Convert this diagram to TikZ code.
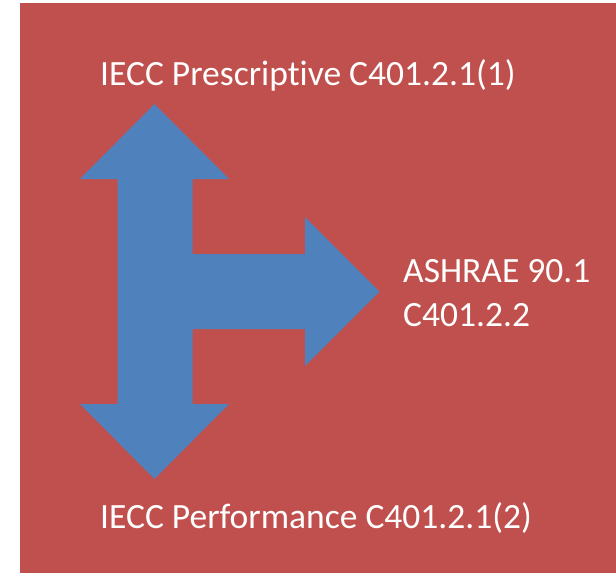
\documentclass[tikz,border=0pt]{standalone}
\usepackage{fontspec}
\setmainfont[Ligatures=NoCommon]{Carlito}
\usetikzlibrary{positioning}
\definecolor{bgred}{HTML}{C0504D}
\definecolor{arblue}{HTML}{4F81BD}
\tikzset{
  lbl/.style={text=white,inner sep=0pt,align=left,font=\fontsize{35.5}{44}\selectfont},
  bigarrow/.style={fill=arblue,draw=none},
}

\begin{document}
\begin{tikzpicture}[x=1pt,y=-1pt]
  \useasboundingbox (0,0) rectangle (616,573);
  \fill[bgred] (20,3) rectangle (616,573);
  % three-way block arrow
  \fill[bigarrow] (154.5,104) -- (229,179) -- (192.5,179) -- (192.5,254) -- (305,254)
    -- (305,217) -- (379.5,291.5) -- (305,366) -- (305,329) -- (192.5,329) -- (192.5,404)
    -- (229,404) -- (154.5,479) -- (80,404) -- (117.5,404) -- (117.5,179) -- (80,179) -- cycle;
  \node[lbl,anchor=base west] (presc) at (100,85) {IECC Prescriptive C401.2.1(1)};
  \node[lbl,anchor=base west] (perf) at (100,528) {IECC Performance C401.2.1(2)};
  \node[lbl,anchor=base west] (ashrae) at (403,326) {ASHRAE 90.1\\C401.2.2};
\end{tikzpicture}
\end{document}
